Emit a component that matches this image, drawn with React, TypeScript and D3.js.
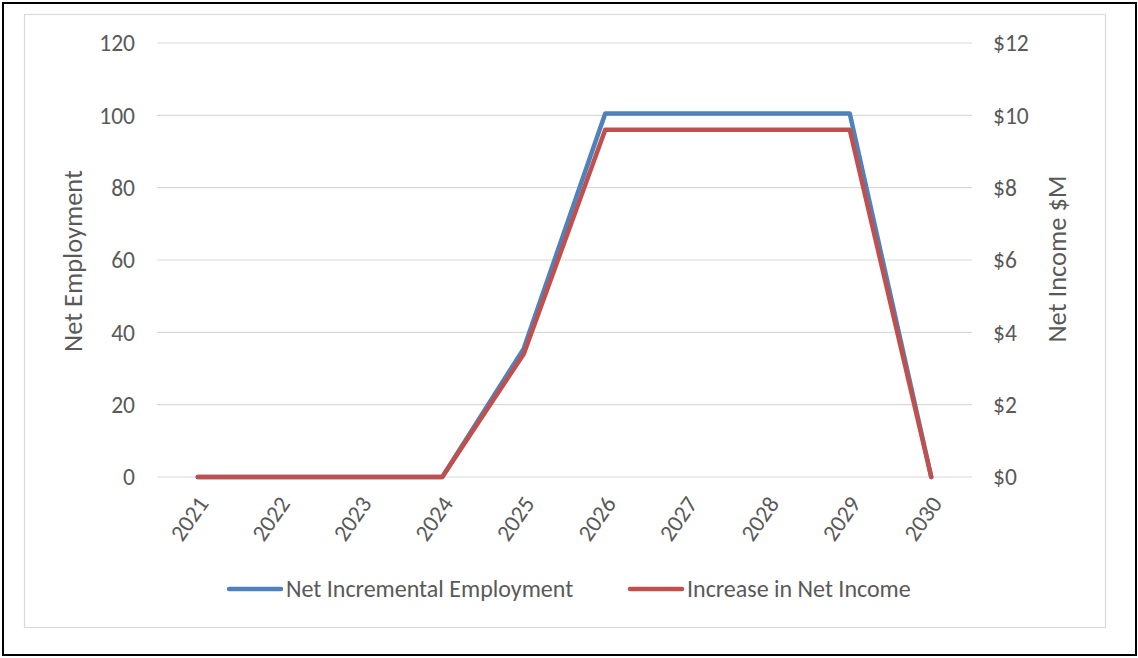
import React from "react";
import * as d3 from "d3";

const years = ["2021", "2022", "2023", "2024", "2025", "2026", "2027", "2028", "2029", "2030"];
const employment = [0, 0, 0, 0, 35.5, 100.5, 100.5, 100.5, 100.5, 0];
const netIncomeM = [0, 0, 0, 0, 3.4, 9.6, 9.6, 9.6, 9.6, 0];
const leftTicks = [0, 20, 40, 60, 80, 100, 120];
const rightTicks = [0, 2, 4, 6, 8, 10, 12];

const W = 1138;
const H = 658;
const FONT = "Carlito, Calibri, 'Open Sans', sans-serif";
const TXT = "#595959";
const BLUE = "#4F81BD";
const RED = "#C0504D";

export default function App() {
  const x = d3.scaleBand<string>().domain(years).range([157, 972]);
  const yL = d3.scaleLinear().domain([0, 120]).range([477, 43]);
  const yR = d3.scaleLinear().domain([0, 12]).range([477, 43]);
  const cx = (d: string) => (x(d) as number) + x.bandwidth() / 2;

  const lineL = d3
    .line<number>()
    .x((_, i) => cx(years[i]))
    .y((d) => yL(d));
  const lineR = d3
    .line<number>()
    .x((_, i) => cx(years[i]))
    .y((d) => yR(d));

  return (
    <svg
      width={W}
      height={H}
      style={{ position: "absolute", left: 0, top: 0, fontFamily: FONT }}
    >
      <rect x={0} y={0} width={W} height={H} fill="#fff" />
      <rect x={3} y={3} width={1133} height={652} fill="none" stroke="#000" strokeWidth={2} />
      <rect x={24.5} y={14.5} width={1081} height={613} fill="#fff" stroke="#d9d9d9" strokeWidth={1.2} />

      {leftTicks.map((t) => (
        <line key={t} x1={157} x2={972} y1={yL(t)} y2={yL(t)} stroke="#d9d9d9" strokeWidth={1.2} />
      ))}

      {leftTicks.map((t) => (
        <text key={"l" + t} x={135} y={yL(t)} dy="0.35em" textAnchor="end" fontSize={23.5} fill={TXT}>
          {t}
        </text>
      ))}
      {rightTicks.map((t) => (
        <text key={"r" + t} x={993} y={yR(t)} dy="0.35em" textAnchor="start" fontSize={23.5} fill={TXT}>
          {"$" + t}
        </text>
      ))}

      <text
        transform={`translate(82,${261}) rotate(-90)`}
        textAnchor="middle"
        fontSize={26.5}
        fill={TXT}
      >
        Net Employment
      </text>
      <text
        transform={`translate(1066,${259}) rotate(-90)`}
        textAnchor="middle"
        fontSize={26.5}
        fill={TXT}
      >
        Net Income $M
      </text>

      {years.map((y) => (
        <text
          key={y}
          transform={`translate(${cx(y) + 5},${499}) rotate(-55)`}
          textAnchor="end"
          dy="0.35em"
          fontSize={23.5}
          fill={TXT}
        >
          {y}
        </text>
      ))}

      <path d={lineL(employment) || ""} fill="none" stroke={BLUE} strokeWidth={4.5} strokeLinejoin="round" strokeLinecap="round" />
      <path d={lineR(netIncomeM) || ""} fill="none" stroke={RED} strokeWidth={4.5} strokeLinejoin="round" strokeLinecap="round" />

      <line x1={229} x2={281} y1={589} y2={589} stroke={BLUE} strokeWidth={4.5} strokeLinecap="round" />
      <text x={286} y={589} dy="0.35em" fontSize={24} fill={TXT}>
        Net Incremental Employment
      </text>
      <line x1={630} x2={682} y1={589} y2={589} stroke={RED} strokeWidth={4.5} strokeLinecap="round" />
      <text x={687} y={589} dy="0.35em" fontSize={24} fill={TXT}>
        Increase in Net Income
      </text>
    </svg>
  );
}
